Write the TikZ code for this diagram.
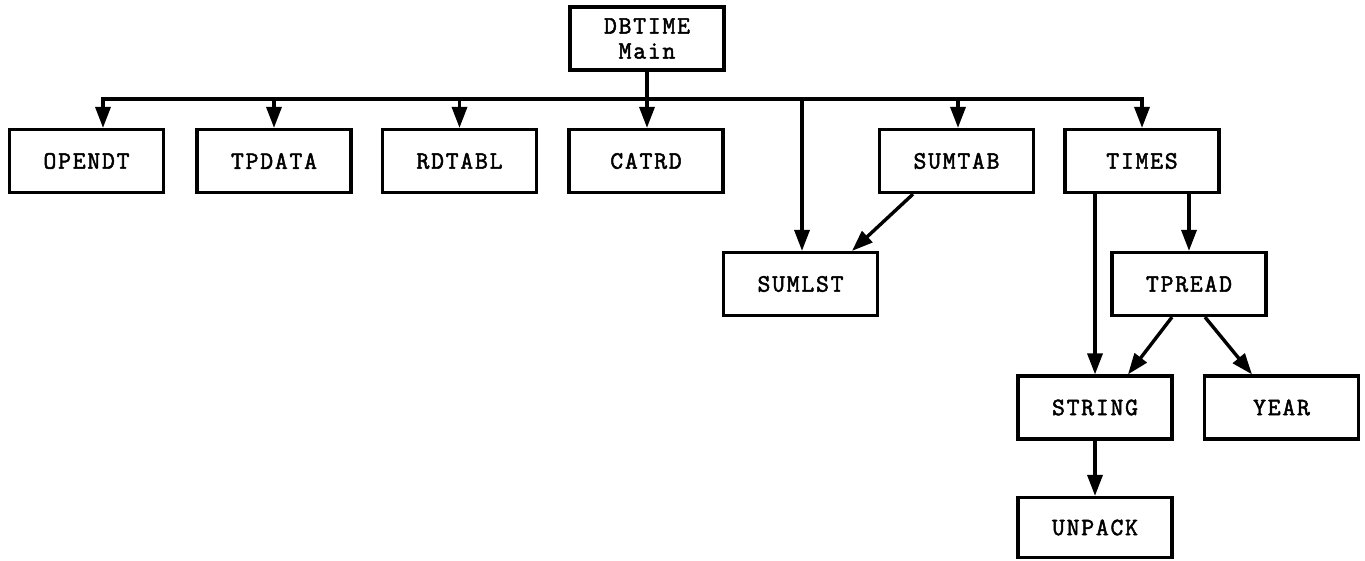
\documentclass[tikz,border=0pt]{standalone}
\usepackage{fontspec}
\newfontfamily\boxfont[FakeBold=2,LetterSpace=7]{Latin Modern Mono}
\usetikzlibrary{arrows.meta,calc}
\begin{document}
\begin{tikzpicture}[x=1pt,y=-1pt,
  box/.style={draw,line width=3.2pt,rectangle,minimum width=154pt,minimum height=63pt,inner sep=0pt,font=\boxfont\fontsize{25}{25}\selectfont,align=center},
  conn/.style={line width=3.4pt},
  arr/.style={conn,-{Triangle[length=21pt,width=15pt]}}]
\useasboundingbox (0,0) rectangle (1365,560);
% nodes
\node[box] (dbtime) at (647,38.5) {DBTIME\\Main};
\node[box] (opendt) at (86.5,161) {OPENDT};
\node[box] (tpdata) at (274,161) {TPDATA};
\node[box] (rdtabl) at (459.5,161) {RDTABL};
\node[box] (catrd) at (646,161) {CATRD};
\node[box] (sumtab) at (956.5,161) {SUMTAB};
\node[box] (times) at (1142,161) {TIMES};
\node[box] (sumlst) at (800.5,284) {SUMLST};
\node[box] (tpread) at (1189,284) {TPREAD};
\node[box] (string) at (1095,407.5) {STRING};
\node[box] (year) at (1281.5,407.5) {YEAR};
\node[box,minimum height=60pt] (unpack) at (1095,527.5) {UNPACK};
% bus
\coordinate (bl) at (103,99);
\coordinate (br) at (1142,99);
\coordinate (bs) at (802,99);
\draw[conn,line cap=rect] (bl) -- (br);
\draw[conn] (dbtime.south) -- (dbtime.south |- bl);
\draw[arr] (bl) -- (bl |- opendt.north);
\draw[arr] (tpdata.north |- bl) -- (tpdata.north);
\draw[arr] (rdtabl.north |- bl) -- (rdtabl.north);
\draw[arr] (dbtime.south |- bl) -- (dbtime.south |- catrd.north);
\draw[arr] ($(sumtab.north |- bl)+(1.5,0)$) -- ($(sumtab.north)+(1.5,0)$);
\draw[arr] (br) -- (times.north);
\draw[arr] (bs) -- (bs |- sumlst.north);
% lower connectors
\draw[arr] ($(sumtab.south)+(-43.5,0)$) -- ($(sumlst.north)+(51.5,0)$);
\draw[arr] (string.north |- times.south) -- (string.north);
\draw[arr] (tpread.north |- times.south) -- (tpread.north);
\draw[arr] ($(tpread.south)+(-17,0)$) -- ($(string.north)+(33,0)$);
\draw[arr] ($(tpread.south)+(16,0)$) -- ($(year.north)+(-29.5,0)$);
\draw[arr] (string.south) -- (unpack.north);
\end{tikzpicture}
\end{document}
